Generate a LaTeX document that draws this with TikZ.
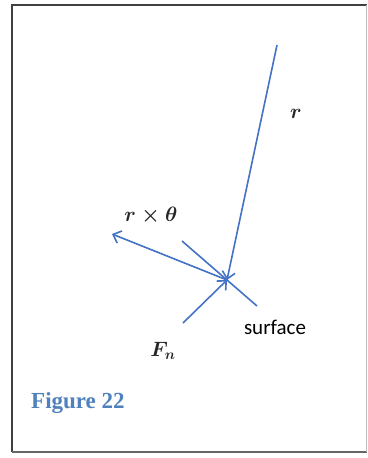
\documentclass[tikz,border=0pt]{standalone}
\usepackage{fontspec}
\usetikzlibrary{arrows.meta}
\newfontfamily\calfont{Carlito}
\newfontfamily\capfont{Liberation Serif}
\definecolor{vecblue}{RGB}{68,114,196}
\definecolor{capblue}{RGB}{79,129,189}
\begin{document}
\begin{tikzpicture}[x=1pt,y=-1pt,
  vec/.style={draw=vecblue,line width=1.6pt,-{Straight Barb[length=7pt,width=13pt,line width=1.6pt]}},
  plainline/.style={draw=vecblue,line width=1.6pt},
  lbl/.style={inner sep=0pt,text=black!85,font=\fontsize{21}{25}\selectfont\boldmath}]
\useasboundingbox (0,0) rectangle (367,458);
\draw[line width=1.3pt,black!75] (12,452) -- (12,5) -- (367,5);
\draw[line width=1.2pt,black!60] (12,452) -- (367,452);
\draw[line width=0.6pt,black!25] (366,5) -- (366,452);
\coordinate (P) at (227,280);
\coordinate (rtop) at (277,45);
\coordinate (rxt) at (112,234);
\coordinate (fn) at (183,323);
\coordinate (s1) at (182,241);
\coordinate (s2) at (257,306);
\draw[plainline] (s1) -- (s2);
\draw[vec] (rtop) -- (P);
\draw[vec] (P) -- (rxt);
\draw[vec] (fn) -- (P);
\node[lbl] (rl) at (296,114) {$r$};
\node[lbl] (rxl) at (151,216) {$r\times\theta$};
\node[lbl] (fnl) at (163,351) {$F_n$};
\node[lbl,text=black,font=\calfont\fontsize{21}{25}\selectfont] (sl) at (275,327) {surface};
\node[lbl,font=\capfont\bfseries\fontsize{23}{27}\selectfont,text=capblue,anchor=west] (cap) at (31,403) {Figure 22};
\end{tikzpicture}
\end{document}
